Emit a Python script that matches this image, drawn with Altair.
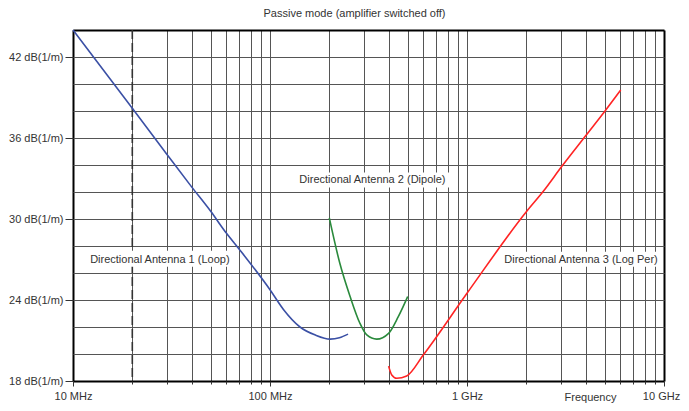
import altair as alt
import pandas as pd

FONT = "Liberation Sans"
TXT = "#333333"

title_text = "Passive mode (amplifier switched off)"

# Curves (frequency in MHz, antenna factor in dB(1/m))
loop_freq = [10, 20, 30, 40, 50, 60, 69, 100, 117, 142, 170, 202, 225, 249]
loop_db = [44.0, 38.2, 34.78, 32.38, 30.57, 28.96, 27.85, 24.76, 23.3, 22.0, 21.4, 21.1, 21.2, 21.47]

dipole_freq = [200, 226, 255, 286, 310, 348, 400, 448, 500]
dipole_db = [30.08, 26.74, 24.26, 22.28, 21.41, 21.1, 21.53, 22.77, 24.26]

logper_freq = [400, 415, 440, 494, 600, 1000, 2010, 2440, 3030, 4050, 5020, 6030]
logper_db = [19.1, 18.45, 18.2, 18.37, 19.93, 24.5, 30.57, 32.05, 33.9, 36.26, 38.0, 39.55]

series_names = ["Loop", "Dipole", "LogPer"]
series_colors = ["#3b50a5", "#2a8a3c", "#ff2424"]

# Dashed marker line
marker_freq = [20]

# Annotation labels
label_text = ["Directional Antenna 1 (Loop)", "Directional Antenna 2 (Dipole)", "Directional Antenna 3 (Log Per)"]
label_freq = [27.6, 331, 3790]
label_db = [26.98, 32.87, 26.98]
box_f0 = [11.64, 135.5, 1488]
box_f1 = [65.6, 811, 9600]
box_db0 = [26.46, 32.33, 26.46]
box_db1 = [27.65, 33.44, 27.58]

# Axes
x_grid = [m * 10 ** e for e in range(1, 4) for m in range(1, 10)] + [10000]
x_label_values = [10, 100, 1000, 10000]
x_label_texts = ["10 MHz", "100 MHz", "1 GHz", "10 GHz"]
y_grid = list(range(18, 46, 2))
y_label_values = [18, 24, 30, 36, 42]
y_unit = " dB(1/m)"

curves = pd.concat([
    pd.DataFrame({"freq": loop_freq, "db": loop_db, "series": "Loop"}),
    pd.DataFrame({"freq": dipole_freq, "db": dipole_db, "series": "Dipole"}),
    pd.DataFrame({"freq": logper_freq, "db": logper_db, "series": "LogPer"}),
])
labels = pd.DataFrame({"text": label_text, "freq": label_freq, "db": label_db,
                       "f0": box_f0, "f1": box_f1, "d0": box_db0, "d1": box_db1})
marker = pd.DataFrame({"freq": marker_freq, "db": [18]})

x_label_expr = " : ".join(
    f"datum.value == {v} ? '{t}'" for v, t in zip(x_label_values, x_label_texts)
) + " : ''"
decade_test = " || ".join(f"datum.value == {v}" for v in x_label_values)
y_label_test = " || ".join(f"datum.value == {v}" for v in y_label_values)

x_scale = alt.Scale(type="log", domain=[10, 10000], nice=False)
y_scale = alt.Scale(domain=[18, 44], nice=False, zero=False)

x_axis = alt.Axis(
    values=x_grid,
    labelExpr=x_label_expr,
    labelOverlap=False,
    labelFlush=False,
    labelBound=False,
    labelOffset={"condition": {"test": "datum.value == 10000", "value": -3}, "value": 0},
    labelFont=FONT, labelFontSize=11, labelColor=TXT, labelPadding=4,
    tickColor=TXT,
    tickSize={"condition": {"test": decade_test, "value": 5}, "value": 3},
    domain=False,
    grid=True,
    gridColor={"condition": {"test": "datum.value == 10 || datum.value == 10000", "value": "#000000"}, "value": "#555555"},
    gridWidth={"condition": {"test": "datum.value == 10 || datum.value == 10000", "value": 2}, "value": 1},
    title="Frequency",
    titleFont=FONT, titleFontSize=11, titleFontWeight="normal", titleColor=TXT,
    titleX=517, titleY=21, titleAlign="center", titleBaseline="bottom", titleAnchor="start",
)
y_axis = alt.Axis(
    values=y_grid,
    tickCount=14,
    labelExpr=f"({y_label_test}) ? datum.value + '{y_unit}' : ''",
    labelOverlap=False,
    labelFont=FONT, labelFontSize=11, labelColor=TXT, labelPadding=2,
    tickColor=TXT, tickSize=8,
    tickOpacity={"condition": {"test": y_label_test, "value": 1}, "value": 0},
    domain=False,
    grid=True,
    gridColor={"condition": {"test": "datum.value == 18 || datum.value == 44", "value": "#000000"}, "value": "#555555"},
    gridWidth={"condition": {"test": "datum.value == 18 || datum.value == 44", "value": 2}, "value": 1},
    title=None,
)

X = lambda f: alt.X(f, type="quantitative", scale=x_scale, axis=x_axis)
Y = lambda f: alt.Y(f, type="quantitative", scale=y_scale, axis=y_axis)

dash = alt.Chart(marker).mark_rule(color="#333333", strokeWidth=1.6, strokeDash=[9, 4]).encode(
    x=X("freq"),
)

boxes = alt.Chart(labels).mark_rect(fill="white").encode(
    x=X("f0"),
    x2="f1:Q",
    y=Y("d0"),
    y2="d1:Q",
)

lines = alt.Chart(curves).mark_line(strokeWidth=1.6, interpolate="monotone").encode(
    x=X("freq"),
    y=Y("db"),
    color=alt.Color("series:N", scale=alt.Scale(domain=series_names, range=series_colors), legend=None),
    detail="series:N",
)

texts = alt.Chart(labels).mark_text(font=FONT, fontSize=11, color=TXT, baseline="middle", align="center").encode(
    x=X("freq"),
    y=Y("db"),
    text="text:N",
)

chart = alt.layer(dash, boxes, lines, texts).properties(
    width=591,
    height=351,
    autosize=alt.AutoSizeParams(type="none"),
    padding={"left": 65, "top": 22, "right": 17, "bottom": 22},
    title=alt.TitleParams(text=title_text, anchor="middle", dx=-14, offset=5,
                          font=FONT, fontSize=11, fontWeight="normal", color=TXT),
).configure_view(stroke="transparent").configure(background="white")

chart.save("out.html", embed_options={"renderer": "svg", "actions": False})
